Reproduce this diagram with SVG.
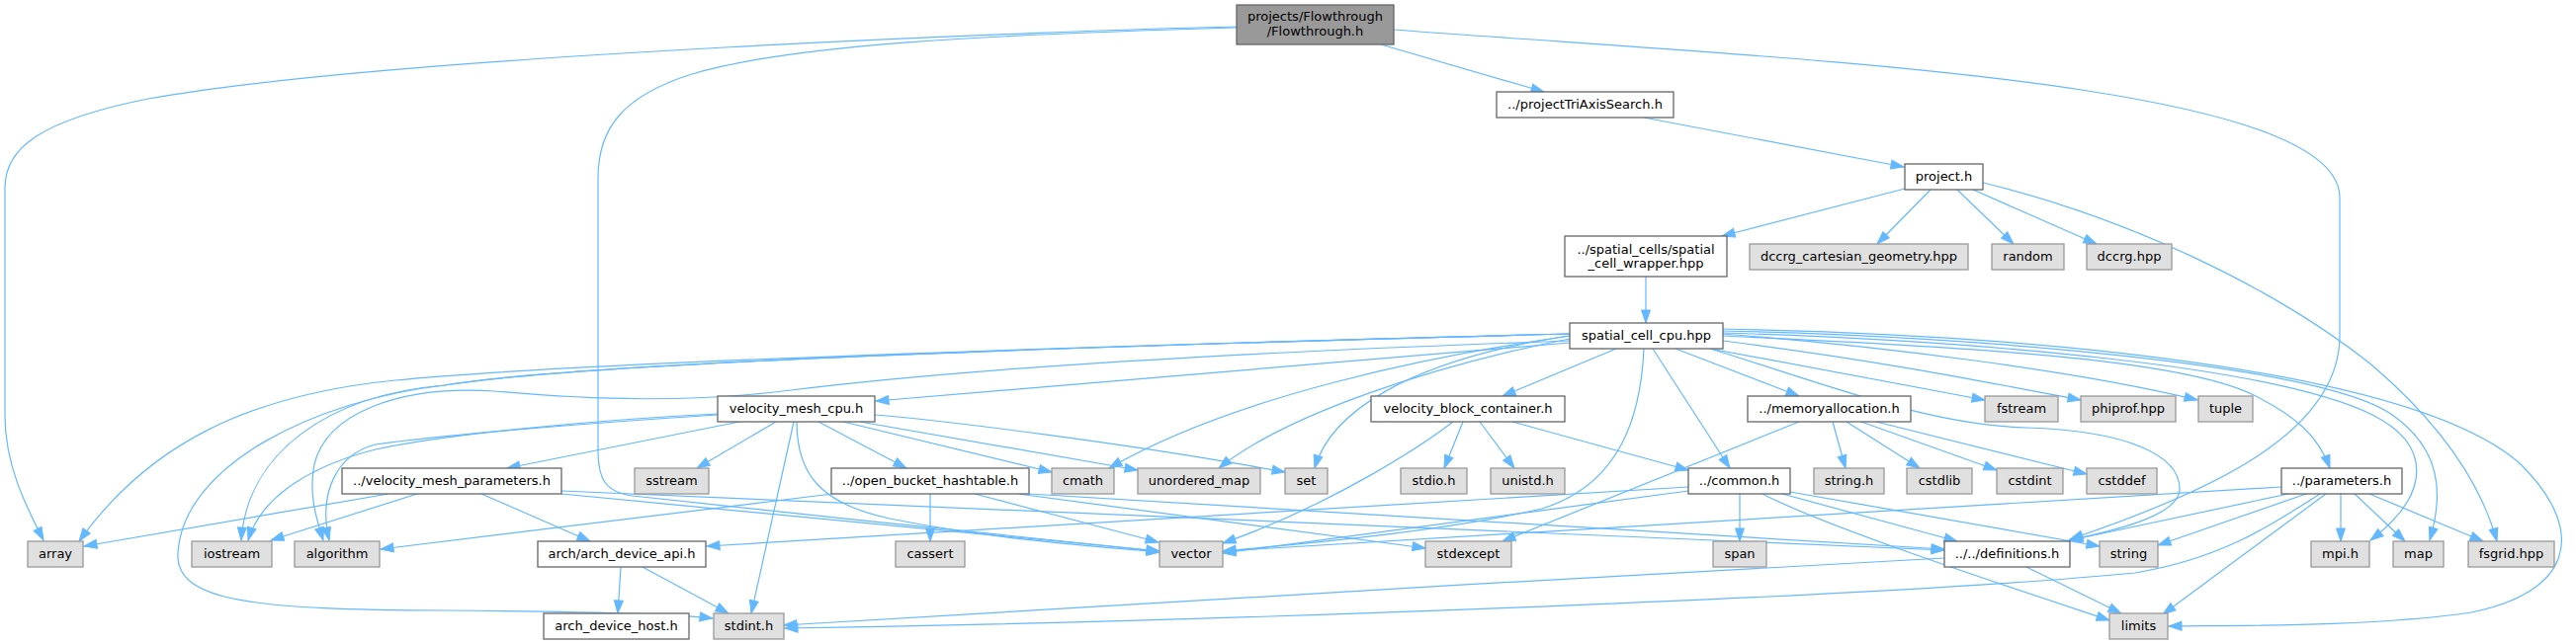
<svg xmlns="http://www.w3.org/2000/svg" width="2606" height="652" viewBox="0 0 2606 652">
<style>
.e{fill:none;stroke:#63b8ff;stroke-width:1.2;marker-end:url(#ah)}
.w{fill:#ffffff;stroke:#666666;stroke-width:1.3}
.g{fill:#e0e0e0;stroke:#999999;stroke-width:1.3}
.r{fill:#999999;stroke:#666666;stroke-width:1.3}
text{font-family:'DejaVu Sans','Liberation Sans',sans-serif;font-size:13px;text-anchor:middle;fill:#000000}
</style>
<defs>
<marker id="ah" markerUnits="userSpaceOnUse" markerWidth="16" markerHeight="12" refX="13" refY="5" orient="auto" overflow="visible">
<path d="M0,0.5 L13,5 L0,9.5 z" fill="#63b8ff" stroke="#63b8ff" stroke-width="1"/>
</marker>
</defs>
<rect width="2606" height="652" fill="#ffffff"/>
<g id="edges">
<path class="e" d="M1251,27 C1100,30 400,55 150,100 C40,122 5,150 5,190 L5,420 C5,470 25,510 44,547"/>
<path class="e" d="M1251,28 C1000,35 800,45 700,75 C630,97 605,130 605,180 L605,455 C605,485 612,498 640,502 C800,520 1050,545 1173,558"/>
<path class="e" d="M1397,45 L1562,93"/>
<path class="e" d="M1410,30 C1800,60 2367,80 2367,200 L2367,340 C2367,440 2230,500 2094,546"/>
<path class="e" d="M1663,119 L1926,169"/>
<path class="e" d="M1927,191 L1742,239"/>
<path class="e" d="M1953,192 L1899,247"/>
<path class="e" d="M1980,192 L2037,247"/>
<path class="e" d="M1996,192 L2121,247"/>
<path class="e" d="M2006,185 C2150,220 2300,290 2400,370 C2470,430 2510,490 2526,548"/>
<path class="e" d="M1665,280 L1665,327"/>
<path class="e" d="M1588,347 L886,406"/>
<path class="e" d="M1588,338 C1200,348 600,365 400,385 C250,400 150,450 80,548"/>
<path class="e" d="M1588,338 C1200,348 600,365 450,390 C330,400 250,460 244,547"/>
<path class="e" d="M1588,338 C1200,348 600,365 450,390 C320,405 185,470 180,560 C177,610 260,617 450,618 C580,619 680,621 721,626"/>
<path class="e" d="M1588,345 C1300,355 1000,370 800,395 C700,408 600,405 500,396 C400,390 330,420 318,470 C312,500 320,525 327,547"/>
<path class="e" d="M1588,340 C1450,360 1250,400 1122,474"/>
<path class="e" d="M1588,343 C1450,370 1300,420 1233,474"/>
<path class="e" d="M1588,340 C1420,365 1345,420 1330,474"/>
<path class="e" d="M1635,353 L1520,401"/>
<path class="e" d="M1663,353 C1660,420 1640,490 1560,515 C1450,540 1300,552 1237,558"/>
<path class="e" d="M1672,353 L1750,474"/>
<path class="e" d="M1695,353 L1820,401"/>
<path class="e" d="M1730,353 L2008,405"/>
<path class="e" d="M1743,345 C1900,365 2000,385 2105,405"/>
<path class="e" d="M1743,338 C1900,350 2100,375 2223,405"/>
<path class="e" d="M1743,340 C1950,350 2200,360 2280,400 C2320,420 2345,440 2357,474"/>
<path class="e" d="M1743,337 C2000,345 2300,370 2400,420 C2460,450 2460,500 2398,547"/>
<path class="e" d="M1743,335 C2000,340 2350,370 2420,420 C2470,455 2472,500 2458,547"/>
<path class="e" d="M1743,333 C2100,340 2450,380 2550,470 C2620,540 2600,600 2500,620 C2400,635 2250,633 2194,634"/>
<path class="e" d="M1730,353 C1850,390 1950,430 2050,433 C2150,436 2205,460 2205,495 C2205,520 2150,535 2093,547"/>
<path class="e" d="M748,427 L513,474"/>
<path class="e" d="M785,427 L705,474"/>
<path class="e" d="M803,427 L760,621"/>
<path class="e" d="M828,427 L917,474"/>
<path class="e" d="M806,427 C806,480 830,510 900,525 C1000,545 1100,553 1173,559"/>
<path class="e" d="M726,419 C600,425 450,440 380,455 C320,470 265,500 251,547"/>
<path class="e" d="M726,420 C600,428 450,440 380,450 C340,460 322,500 333,547"/>
<path class="e" d="M853,427 L1064,478"/>
<path class="e" d="M870,427 L1151,476"/>
<path class="e" d="M885,420 C950,425 1150,450 1300,478"/>
<path class="e" d="M393,500 L85,553"/>
<path class="e" d="M422,500 L274,547"/>
<path class="e" d="M487,500 L597,548"/>
<path class="e" d="M568,500 L1173,558"/>
<path class="e" d="M568,497 L1967,557"/>
<path class="e" d="M842,500 L385,556"/>
<path class="e" d="M941,500 L941,548"/>
<path class="e" d="M986,500 L1172,549"/>
<path class="e" d="M1030,500 L1442,555"/>
<path class="e" d="M1041,500 L1967,556"/>
<path class="e" d="M628,574 L625,621"/>
<path class="e" d="M650,574 L737,621"/>
<path class="e" d="M1708,493 L715,553"/>
<path class="e" d="M1708,497 L1237,560"/>
<path class="e" d="M1760,500 L1760,548"/>
<path class="e" d="M1803,500 L1980,548"/>
<path class="e" d="M1811,498 L2124,553"/>
<path class="e" d="M1783,500 C1850,535 2050,600 2134,628"/>
<path class="e" d="M1967,565 C1600,585 1100,613 793,633"/>
<path class="e" d="M2050,574 L2146,621"/>
<path class="e" d="M2308,493 L1237,558"/>
<path class="e" d="M2315,500 L2094,547"/>
<path class="e" d="M2333,500 L2183,552"/>
<path class="e" d="M2347,500 C2300,530 2250,565 2160,580 C1900,605 1200,630 794,636"/>
<path class="e" d="M2353,500 L2188,622"/>
<path class="e" d="M2368,500 L2368,548"/>
<path class="e" d="M2382,500 L2433,548"/>
<path class="e" d="M2397,500 L2512,548"/>
<path class="e" d="M1480,427 L1461,474"/>
<path class="e" d="M1497,427 L1532,474"/>
<path class="e" d="M1530,427 L1708,476"/>
<path class="e" d="M1470,427 C1440,450 1350,510 1237,550"/>
<path class="e" d="M1820,427 L1520,548"/>
<path class="e" d="M1854,427 L1867,474"/>
<path class="e" d="M1868,427 L1942,474"/>
<path class="e" d="M1883,427 L2020,476"/>
<path class="e" d="M1898,427 L2111,480"/>
</g>
<g id="n_root"><rect class="r" x="1251" y="5" width="159" height="40"/><text x="1330.5" y="21">projects/Flowthrough</text><text x="1330.5" y="36">/Flowthrough.h</text></g>
<g id="n_triaxis"><rect class="w" x="1514" y="93" width="179" height="26"/><text x="1603.5" y="110">../projectTriAxisSearch.h</text></g>
<g id="n_project"><rect class="w" x="1927" y="166" width="79" height="26"/><text x="1966.5" y="183">project.h</text></g>
<g id="n_wrapper"><rect class="w" x="1583" y="239" width="164" height="41"/><text x="1665" y="256.5">../spatial_cells/spatial</text><text x="1665" y="271">_cell_wrapper.hpp</text></g>
<g id="n_dccrgcart"><rect class="g" x="1770" y="247" width="221" height="26"/><text x="1880.5" y="264">dccrg_cartesian_geometry.hpp</text></g>
<g id="n_random"><rect class="g" x="2015" y="247" width="73" height="26"/><text x="2051.5" y="264">random</text></g>
<g id="n_dccrg"><rect class="g" x="2111" y="247" width="86" height="26"/><text x="2154" y="264">dccrg.hpp</text></g>
<g id="n_scc"><rect class="w" x="1588" y="327" width="155" height="26"/><text x="1665.5" y="344">spatial_cell_cpu.hpp</text></g>
<g id="n_vmc"><rect class="w" x="726" y="401" width="159" height="26"/><text x="805.5" y="418">velocity_mesh_cpu.h</text></g>
<g id="n_vbc"><rect class="w" x="1387" y="401" width="196" height="26"/><text x="1485" y="418">velocity_block_container.h</text></g>
<g id="n_memalloc"><rect class="w" x="1768" y="401" width="165" height="26"/><text x="1850.5" y="418">../memoryallocation.h</text></g>
<g id="n_fstream"><rect class="g" x="2008" y="401" width="74" height="26"/><text x="2045" y="418">fstream</text></g>
<g id="n_phiprof"><rect class="g" x="2105" y="401" width="96" height="26"/><text x="2153" y="418">phiprof.hpp</text></g>
<g id="n_tuple"><rect class="g" x="2224" y="401" width="55" height="26"/><text x="2251.5" y="418">tuple</text></g>
<g id="n_vmp"><rect class="w" x="346" y="474" width="222" height="26"/><text x="457" y="491">../velocity_mesh_parameters.h</text></g>
<g id="n_sstream"><rect class="g" x="642" y="474" width="75" height="26"/><text x="679.5" y="491">sstream</text></g>
<g id="n_obh"><rect class="w" x="841" y="474" width="200" height="26"/><text x="941" y="491">../open_bucket_hashtable.h</text></g>
<g id="n_cmath"><rect class="g" x="1064" y="474" width="63" height="26"/><text x="1095.5" y="491">cmath</text></g>
<g id="n_umap"><rect class="g" x="1151" y="474" width="124" height="26"/><text x="1213" y="491">unordered_map</text></g>
<g id="n_set"><rect class="g" x="1300" y="474" width="43" height="26"/><text x="1321.5" y="491">set</text></g>
<g id="n_stdio"><rect class="g" x="1417" y="474" width="67" height="26"/><text x="1450.5" y="491">stdio.h</text></g>
<g id="n_unistd"><rect class="g" x="1508" y="474" width="75" height="26"/><text x="1545.5" y="491">unistd.h</text></g>
<g id="n_common"><rect class="w" x="1708" y="474" width="103" height="26"/><text x="1759.5" y="491">../common.h</text></g>
<g id="n_stringh"><rect class="g" x="1835" y="474" width="71" height="26"/><text x="1870.5" y="491">string.h</text></g>
<g id="n_cstdlib"><rect class="g" x="1929" y="474" width="66" height="26"/><text x="1962" y="491">cstdlib</text></g>
<g id="n_cstdint"><rect class="g" x="2020" y="474" width="67" height="26"/><text x="2053.5" y="491">cstdint</text></g>
<g id="n_cstddef"><rect class="g" x="2111" y="474" width="71" height="26"/><text x="2146.5" y="491">cstddef</text></g>
<g id="n_params"><rect class="w" x="2308" y="474" width="122" height="26"/><text x="2369" y="491">../parameters.h</text></g>
<g id="n_array"><rect class="g" x="28" y="548" width="56" height="26"/><text x="56" y="565">array</text></g>
<g id="n_iostream"><rect class="g" x="194" y="548" width="81" height="26"/><text x="234.5" y="565">iostream</text></g>
<g id="n_algorithm"><rect class="g" x="298" y="548" width="86" height="26"/><text x="341" y="565">algorithm</text></g>
<g id="n_archapi"><rect class="w" x="544" y="548" width="170" height="26"/><text x="629" y="565">arch/arch_device_api.h</text></g>
<g id="n_cassert"><rect class="g" x="906" y="548" width="70" height="26"/><text x="941" y="565">cassert</text></g>
<g id="n_vector"><rect class="g" x="1173" y="548" width="64" height="26"/><text x="1205" y="565">vector</text></g>
<g id="n_stdexcept"><rect class="g" x="1442" y="548" width="87" height="26"/><text x="1485.5" y="565">stdexcept</text></g>
<g id="n_span"><rect class="g" x="1733" y="548" width="54" height="26"/><text x="1760" y="565">span</text></g>
<g id="n_defs"><rect class="w" x="1967" y="548" width="127" height="26"/><text x="2030.5" y="565">../../definitions.h</text></g>
<g id="n_string"><rect class="g" x="2124" y="548" width="59" height="26"/><text x="2153.5" y="565">string</text></g>
<g id="n_mpi"><rect class="g" x="2338" y="548" width="59" height="26"/><text x="2367.5" y="565">mpi.h</text></g>
<g id="n_map"><rect class="g" x="2421" y="548" width="51" height="26"/><text x="2446.5" y="565">map</text></g>
<g id="n_fsgrid"><rect class="g" x="2497" y="548" width="87" height="26"/><text x="2540.5" y="565">fsgrid.hpp</text></g>
<g id="n_archhost"><rect class="w" x="550" y="621" width="147" height="26"/><text x="623.5" y="638">arch_device_host.h</text></g>
<g id="n_stdint"><rect class="g" x="722" y="621" width="71" height="26"/><text x="757.5" y="638">stdint.h</text></g>
<g id="n_limits"><rect class="g" x="2134" y="621" width="59" height="26"/><text x="2163.5" y="638">limits</text></g>
</svg>
